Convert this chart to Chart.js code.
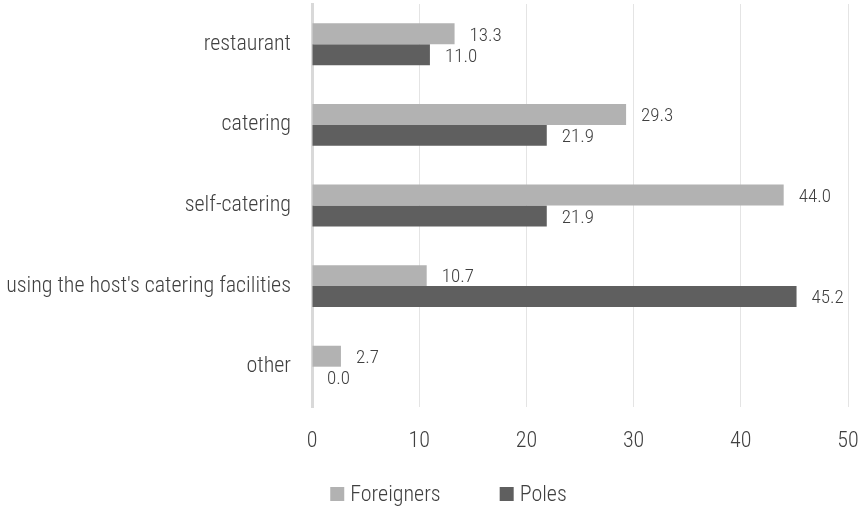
<!DOCTYPE html>
<html>
<head>
<meta charset="utf-8">
<script src="https://cdn.jsdelivr.net/npm/chart.js@4.4.1/dist/chart.umd.min.js"></script>
<style>
  html, body { margin: 0; padding: 0; background: #ffffff; }
  #wrap { width: 865px; height: 507px; position: relative; }
</style>
</head>
<body>
<div id="wrap"><canvas id="chart" width="865" height="507"></canvas></div>
<script>
// Meal arrangements of guests, percentage of respondents
const categories = ['restaurant', 'catering', 'self-catering', "using the host's catering facilities", 'other'];
const foreigners = [13.3, 29.3, 44.0, 10.7, 2.7];
const poles = [11.0, 21.9, 21.9, 45.2, 0.0];
const seriesNames = ['Foreigners', 'Poles'];
const xTicks = [0, 10, 20, 30, 40, 50];

const FONT = "'Roboto Condensed', Roboto, sans-serif";
const TEXT = '#404040';

// Value labels placed just past the end of each bar
const valueLabels = {
  id: 'valueLabels',
  afterDatasetsDraw(chart) {
    const ctx = chart.ctx;
    ctx.save();
    ctx.font = '300 19px ' + FONT;
    ctx.fillStyle = TEXT;
    ctx.textAlign = 'left';
    ctx.textBaseline = 'middle';
    chart.data.datasets.forEach((ds, i) => {
      const meta = chart.getDatasetMeta(i);
      meta.data.forEach((bar, j) => {
        ctx.fillText(ds.data[j].toFixed(1), bar.x + 15, bar.y + 2);
      });
    });
    ctx.restore();
  }
};

// Legend row under the value axis
const bottomLegend = {
  id: 'bottomLegend',
  afterDraw(chart) {
    const ctx = chart.ctx;
    ctx.save();
    ctx.font = '300 22px ' + FONT;
    ctx.textBaseline = 'middle';
    ctx.textAlign = 'left';
    const box = 14, gapText = 6, gapItem = 59;
    const items = chart.data.datasets.map(ds => ({ label: ds.label, color: ds.backgroundColor, w: ctx.measureText(ds.label).width }));
    let total = 0;
    items.forEach((it, k) => { total += box + gapText + it.w + (k < items.length - 1 ? gapItem : 0); });
    let x = (chart.width - total) / 2 + 16;
    const y = 494;
    items.forEach(it => {
      ctx.fillStyle = it.color;
      ctx.fillRect(x, y - box / 2, box, box);
      ctx.fillStyle = TEXT;
      ctx.fillText(it.label, x + box + gapText, y + 1);
      x += box + gapText + it.w + gapItem;
    });
    ctx.restore();
  }
};

new Chart(document.getElementById('chart'), {
  type: 'bar',
  data: {
    labels: categories,
    datasets: [
      { label: seriesNames[0], data: foreigners, backgroundColor: '#b2b2b2' },
      { label: seriesNames[1], data: poles, backgroundColor: '#5f5f5f' }
    ]
  },
  options: {
    indexAxis: 'y',
    responsive: false,
    animation: false,
    devicePixelRatio: 1,
    layout: { padding: { top: 4, right: 17, bottom: 53, left: 0 } },
    datasets: { bar: { categoryPercentage: 0.52, barPercentage: 1.0 } },
    plugins: { legend: { display: false }, tooltip: { enabled: false } },
    scales: {
      x: {
        min: 0, max: 50,
        afterBuildTicks(scale) { scale.ticks = xTicks.map(v => ({ value: v })); },
        afterFit(scale) { scale.height = 47; scale.paddingLeft = 0; scale.paddingRight = 0; },
        grid: { color: '#e4e4e4', lineWidth: 1, drawTicks: false },
        border: { display: false },
        ticks: { color: TEXT, font: { family: FONT, size: 22, weight: 300 }, padding: 21 }
      },
      y: {
        afterFit(scale) { scale.width = 312; scale.paddingTop = 0; scale.paddingBottom = 0; },
        grid: { display: false, drawTicks: false },
        border: { display: true, color: '#d9d9d9', width: 3 },
        ticks: { color: TEXT, font: { family: FONT, size: 22, weight: 300 }, padding: 21 }
      }
    }
  },
  plugins: [valueLabels, bottomLegend]
});
</script>
</body>
</html>
